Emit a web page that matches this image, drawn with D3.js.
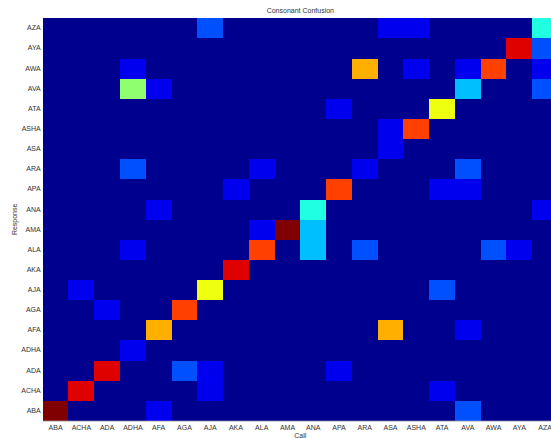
<!DOCTYPE html>
<html>
<head>
<meta charset="utf-8">
<script src="https://cdn.jsdelivr.net/npm/d3@7"></script>
<style>
  html, body { margin: 0; padding: 0; background: #fff; overflow: hidden; }
  svg { display: block; }
  text { font-family: "Liberation Sans", Arial, sans-serif; fill: #333; }
</style>
</head>
<body>
<svg id="chart" width="551" height="438"></svg>
<script>
// Syllables, in axis order (left to right on Call, bottom to top on Response)
const syllables = ["ABA","ACHA","ADA","ADHA","AFA","AGA","AJA","AKA","ALA","AMA",
                   "ANA","APA","ARA","ASA","ASHA","ATA","AVA","AWA","AYA","AZA"];

// Confusion counts: one row per response, columns follow the call order above
const respABA  = [10,0,0,0,1,0,0,0,0,0, 0,0,0,0,0,0,2,0,0,0];
const respACHA = [0,9,0,0,0,0,1,0,0,0, 0,0,0,0,0,1,0,0,0,0];
const respADA  = [0,0,9,0,0,2,1,0,0,0, 0,1,0,0,0,0,0,0,0,0];
const respADHA = [0,0,0,1,0,0,0,0,0,0, 0,0,0,0,0,0,0,0,0,0];
const respAFA  = [0,0,0,0,7,0,0,0,0,0, 0,0,0,7,0,0,1,0,0,0];
const respAGA  = [0,0,1,0,0,8,0,0,0,0, 0,0,0,0,0,0,0,0,0,0];
const respAJA  = [0,1,0,0,0,0,6,0,0,0, 0,0,0,0,0,2,0,0,0,0];
const respAKA  = [0,0,0,0,0,0,0,9,0,0, 0,0,0,0,0,0,0,0,0,0];
const respALA  = [0,0,0,1,0,0,0,0,8,0, 3,0,2,0,0,0,0,2,1,0];
const respAMA  = [0,0,0,0,0,0,0,0,1,10,3,0,0,0,0,0,0,0,0,0];
const respANA  = [0,0,0,0,1,0,0,0,0,0, 4,0,0,0,0,0,0,0,0,1];
const respAPA  = [0,0,0,0,0,0,0,1,0,0, 0,8,0,0,0,1,1,0,0,0];
const respARA  = [0,0,0,2,0,0,0,0,1,0, 0,0,1,0,0,0,2,0,0,0];
const respASA  = [0,0,0,0,0,0,0,0,0,0, 0,0,0,1,0,0,0,0,0,0];
const respASHA = [0,0,0,0,0,0,0,0,0,0, 0,0,0,1,8,0,0,0,0,0];
const respATA  = [0,0,0,0,0,0,0,0,0,0, 0,1,0,0,0,6,0,0,0,0];
const respAVA  = [0,0,0,5,1,0,0,0,0,0, 0,0,0,0,0,0,3,0,0,2];
const respAWA  = [0,0,0,1,0,0,0,0,0,0, 0,0,7,0,1,0,1,8,0,1];
const respAYA  = [0,0,0,0,0,0,0,0,0,0, 0,0,0,0,0,0,0,0,9,2];
const respAZA  = [0,0,0,0,0,0,2,0,0,0, 0,0,0,1,1,0,0,0,0,4];

const responseRows = [respABA, respACHA, respADA, respADHA, respAFA, respAGA, respAJA,
  respAKA, respALA, respAMA, respANA, respAPA, respARA, respASA, respASHA, respATA,
  respAVA, respAWA, respAYA, respAZA];

const chartTitle = "Consonant Confusion";
const xTitle = "Call";
const yTitle = "Response";

// Flatten to cells
const cells = [];
responseRows.forEach((row, ri) => {
  row.forEach((v, ci) => cells.push({ response: syllables[ri], call: syllables[ci], value: v }));
});

// 64-step jet colormap
function jet64() {
  const m = 64, n = 16;
  const u = [];
  for (let i = 1; i <= n; i++) u.push(i / n);
  for (let i = 1; i <= n - 1; i++) u.push(1);
  for (let i = n; i >= 1; i--) u.push(i / n);
  const off = Math.ceil(n / 2) - (m % 4 === 1 ? 1 : 0);
  const J = Array.from({ length: m }, () => [0, 0, 0]);
  for (let k = 1; k <= u.length; k++) {
    const g = off + k, r = g + n, b = g - n;
    if (g <= m) J[g - 1][1] = u[k - 1];
    if (r <= m) J[r - 1][0] = u[k - 1];
  }
  const bIdx = [];
  for (let k = 1; k <= u.length; k++) { const b = off + k - n; if (b >= 1) bIdx.push(b); }
  const start = u.length - bIdx.length;
  bIdx.forEach((b, i) => { J[b - 1][2] = u[start + i]; });
  return J.map(c => d3.rgb(c[0] * 255, c[1] * 255, c[2] * 255).formatHex());
}
const palette = jet64();
const vmin = d3.min(cells, d => d.value), vmax = d3.max(cells, d => d.value);
const color = d => {
  const idx = Math.min(63, Math.floor((d - vmin) / (vmax - vmin) * 64));
  return palette[idx];
};

const margin = { left: 42.7, top: 18, plotW: 515.3, plotH: 402.7 };
const svg = d3.select("#chart");

const x = d3.scaleBand().domain(syllables).range([margin.left, margin.left + margin.plotW]);
const y = d3.scaleBand().domain(syllables).range([margin.top + margin.plotH, margin.top]);

svg.append("g")
  .attr("shape-rendering", "crispEdges")
  .selectAll("rect")
  .data(cells)
  .join("rect")
  .attr("x", d => x(d.call))
  .attr("y", d => y(d.response))
  .attr("width", x.bandwidth() + 0.3)
  .attr("height", y.bandwidth() + 0.3)
  .attr("fill", d => color(d.value));

// Axes
const xAxis = svg.append("g")
  .attr("transform", `translate(0,${margin.top + margin.plotH})`)
  .call(d3.axisBottom(x).tickSize(0).tickPadding(4));
xAxis.select(".domain").attr("stroke", "#bbb");
xAxis.selectAll("text").attr("font-size", 7).attr("fill", "#333");

const yAxis = svg.append("g")
  .attr("transform", `translate(${margin.left},0)`)
  .call(d3.axisLeft(y).tickSize(0).tickPadding(2));
yAxis.select(".domain").remove();
yAxis.selectAll("text").attr("font-size", 7).attr("fill", "#333");

svg.append("text")
  .attr("x", margin.left + margin.plotW / 2)
  .attr("y", 12.5)
  .attr("text-anchor", "middle")
  .attr("font-size", 7)
  .text(chartTitle);

svg.append("text")
  .attr("x", margin.left + margin.plotW / 2)
  .attr("y", 437.5)
  .attr("text-anchor", "middle")
  .attr("font-size", 7)
  .text(xTitle);

svg.append("text")
  .attr("transform", `translate(17,${margin.top + margin.plotH / 2}) rotate(-90)`)
  .attr("text-anchor", "middle")
  .attr("font-size", 7)
  .text(yTitle);
</script>
</body>
</html>
